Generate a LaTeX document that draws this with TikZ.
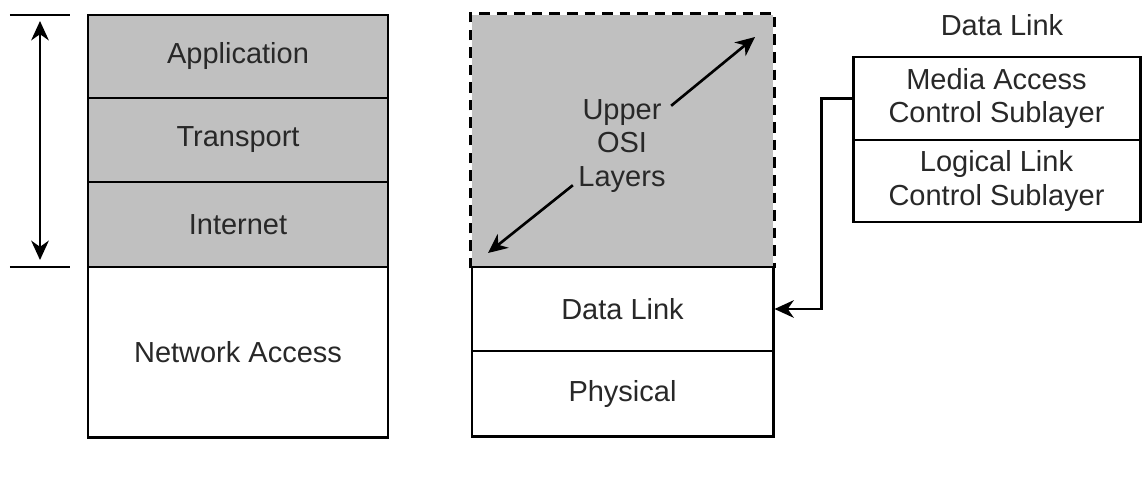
\documentclass[tikz,border=0pt]{standalone}
\usepackage{fontspec}
\setmainfont{Liberation Sans}
\usepackage{tikz}
\usetikzlibrary{arrows.meta,positioning,calc}
\definecolor{layergray}{RGB}{192,192,192}
\definecolor{inkgray}{RGB}{40,40,40}
\tikzstyle{layer} = [rectangle, minimum width=6cm, text centered, draw=black, line width=1.7pt, text=inkgray, inner sep=0pt]
\tikzstyle{upperlayer} = [layer, fill=layergray]
\tikzstyle{sublayer} = [layer, minimum width=5.74cm, align=center]
\tikzstyle{arrow} = [line width=1.5pt,->,>={Stealth[length=11pt,width=10pt,inset=3.5pt]}]

\begin{document}
\begin{tikzpicture}[every node/.style={font=\fontsize{16.5}{19}\selectfont}]
\useasboundingbox (0,0) rectangle (22.86,-9.84);

% TCP/IP stack
\node (app) [upperlayer, minimum height=1.66cm] at (4.76,-1.13) {Application};
\node (trans) [upperlayer, minimum height=1.68cm] at (4.76,-2.80) {Transport};
\node (inet) [upperlayer, minimum height=1.70cm] at (4.76,-4.49) {Internet};
\node (netacc) [layer, minimum height=3.40cm] at (4.76,-7.04) {Network Access};

% Bracket
\coordinate (topa) at (0.2,-0.30);
\coordinate (topb) at (1.4,-0.30);
\coordinate (bota) at (0.2,-5.34);
\coordinate (botb) at (1.4,-5.34);
\draw [line width=1.4pt] (topa) -- (topb);
\draw [line width=1.4pt] (bota) -- (botb);
\draw [arrow,<->] ($(topa)!0.5!(topb)+(0,-0.12)$) -- ($(bota)!0.5!(botb)+(0,0.14)$);

% OSI stack
\node (upper) [upperlayer, draw=none, minimum width=6.02cm, minimum height=5.04cm] at (12.45,-2.82) {};
\draw [line width=1.7pt, dash pattern=on 6pt off 4pt] (upper.south west) -- (upper.north west) -- (upper.north east) -- (upper.south east);
\node (dlink) [layer, minimum width=6.02cm, minimum height=1.68cm] at (12.45,-6.18) {Data Link};
\node (phys) [layer, minimum width=6.02cm, minimum height=1.70cm] at (12.45,-7.87) {Physical};

\node (osi) [align=center, text=inkgray, inner sep=3pt] at (12.44,-2.92) {Upper\\OSI\\Layers};
\coordinate (uptip) at (15.10,-0.74);
\coordinate (lowtip) at (9.76,-5.06);
\draw [arrow] (osi) -- (uptip);
\draw [arrow] (osi) -- (lowtip);

% Data Link sublayers
\node (dltitle) [text=inkgray] at (20.04,-0.50) {Data Link};
\node (mac) [sublayer, minimum height=1.66cm] at (19.93,-1.97) {Media Access\\Control Sublayer};
\node (llc) [sublayer, minimum height=1.64cm] at (19.93,-3.62) {Logical Link\\Control Sublayer};

\draw [arrow] (mac.west) -- ++(-0.6,0) |- (dlink.east);

\end{tikzpicture}
\end{document}
